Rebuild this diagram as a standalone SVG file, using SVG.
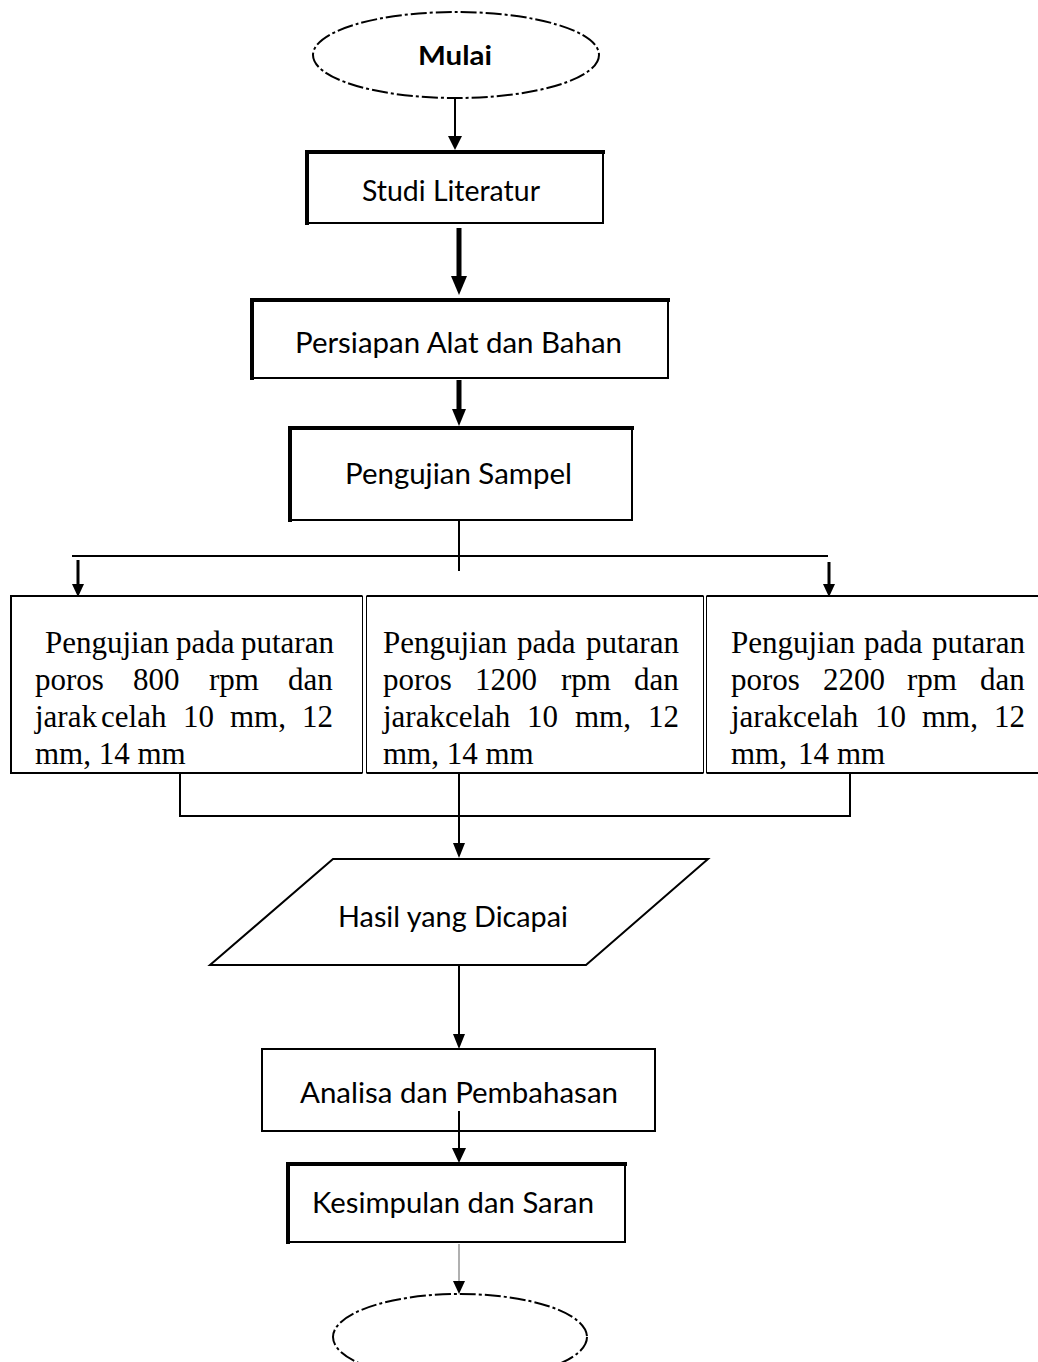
<svg xmlns="http://www.w3.org/2000/svg" width="1038" height="1362" viewBox="0 0 1038 1362">
<style>
.bg{fill:#ffffff}
.box{fill:#ffffff;stroke:#000;stroke-width:2}
.thick{fill:none;stroke:#000;stroke-width:4;stroke-linecap:square}
.thin{fill:none;stroke:#000;stroke-width:1}
.line{fill:none;stroke:#000;stroke-width:2}
.head{fill:#000}
.oval{fill:#fff;stroke:#000;stroke-width:2;stroke-dasharray:16 3 3 3}
.sans{font-family:Lato,"Open Sans","Liberation Sans",sans-serif;font-size:28px;fill:#000}
.bold{font-weight:bold;font-size:27px}
.serif{font-family:"Liberation Serif","Times New Roman",serif;font-size:31px;fill:#000}
</style>
<rect class="bg" x="0" y="0" width="1038" height="1362"/>

<g id="mulai">
  <ellipse class="oval" cx="456" cy="55" rx="143" ry="43"/>
  <text class="sans bold" x="418" y="65" textLength="74" lengthAdjust="spacingAndGlyphs">Mulai</text>
</g>

<g id="studi-literatur">
  <rect class="box" x="307" y="152" width="296" height="71"/>
  <path class="thick" d="M307 223 V152 H603"/>
  <text class="sans" x="362" y="201" textLength="178" lengthAdjust="spacingAndGlyphs">Studi Literatur</text>
</g>

<g id="persiapan">
  <rect class="box" x="252" y="300" width="416" height="78"/>
  <path class="thick" d="M252 378 V300 H668"/>
  <text class="sans" x="295" y="353" textLength="327" lengthAdjust="spacingAndGlyphs">Persiapan Alat dan Bahan</text>
</g>

<g id="pengujian-sampel">
  <rect class="box" x="290" y="428" width="342" height="92"/>
  <path class="thick" d="M290 520 V428 H632"/>
  <text class="sans" x="345" y="484" textLength="227" lengthAdjust="spacingAndGlyphs">Pengujian Sampel</text>
</g>

<g id="uji-800">
  <rect x="11" y="596" width="352" height="177" fill="#fff"/>
  <path class="line" d="M362.5 596 H11 V773 H362.5"/>
  <line class="thin" x1="362.5" y1="596" x2="362.5" y2="773"/>
  <text class="serif">
    <tspan x="45" y="653">Pengujian</tspan><tspan x="176" y="653">pada</tspan><tspan x="241" y="653">putaran</tspan>
    <tspan x="35" y="690">poros</tspan><tspan x="133" y="690">800</tspan><tspan x="209" y="690">rpm</tspan><tspan x="288" y="690">dan</tspan>
    <tspan x="35" y="727">jarak</tspan><tspan x="101" y="727">celah</tspan><tspan x="183" y="727">10</tspan><tspan x="230" y="727">mm,</tspan><tspan x="302" y="727">12</tspan>
    <tspan x="35" y="764">mm, 14 mm</tspan>
  </text>
</g>

<g id="uji-1200">
  <rect x="366.5" y="596" width="337" height="177" fill="#fff"/>
  <path class="line" d="M366.5 596 H703.5 M366.5 773 H703.5"/>
  <line class="thin" x1="366.5" y1="596" x2="366.5" y2="773"/>
  <line class="thin" x1="703.5" y1="596" x2="703.5" y2="773"/>
  <text class="serif">
    <tspan x="383" y="653">Pengujian</tspan><tspan x="517" y="653">pada</tspan><tspan x="586" y="653">putaran</tspan>
    <tspan x="383" y="690">poros</tspan><tspan x="475" y="690">1200</tspan><tspan x="561" y="690">rpm</tspan><tspan x="634" y="690">dan</tspan>
    <tspan x="383" y="727">jarakcelah</tspan><tspan x="527" y="727">10</tspan><tspan x="575" y="727">mm,</tspan><tspan x="648" y="727">12</tspan>
    <tspan x="383" y="764">mm, 14 mm</tspan>
  </text>
</g>

<g id="uji-2200">
  <rect x="706.5" y="596" width="332" height="177" fill="#fff"/>
  <path class="line" d="M706.5 596 H1038 M706.5 773 H1038"/>
  <line class="thin" x1="706.5" y1="596" x2="706.5" y2="773"/>
  <text class="serif">
    <tspan x="731" y="653">Pengujian</tspan><tspan x="864" y="653">pada</tspan><tspan x="932" y="653">putaran</tspan>
    <tspan x="731" y="690">poros</tspan><tspan x="823" y="690">2200</tspan><tspan x="907" y="690">rpm</tspan><tspan x="980" y="690">dan</tspan>
    <tspan x="731" y="727">jarakcelah</tspan><tspan x="875" y="727">10</tspan><tspan x="922" y="727">mm,</tspan><tspan x="994" y="727">12</tspan>
    <tspan x="731" y="764">mm,</tspan><tspan x="798" y="764">14</tspan><tspan x="837" y="764">mm</tspan>
  </text>
</g>

<g id="hasil">
  <polygon class="box" points="333,859 708,859 586,965 210,965"/>
  <text class="sans" x="338" y="927" textLength="230" lengthAdjust="spacingAndGlyphs">Hasil yang Dicapai</text>
</g>

<g id="analisa">
  <rect class="box" x="262" y="1049" width="393" height="82"/>
  <text class="sans" x="300" y="1103" textLength="318" lengthAdjust="spacingAndGlyphs">Analisa dan Pembahasan</text>
</g>

<g id="kesimpulan">
  <rect class="box" x="288" y="1164" width="337" height="78"/>
  <path class="thick" d="M288 1242 V1164 H625"/>
  <text class="sans" x="312" y="1213" textLength="282" lengthAdjust="spacingAndGlyphs">Kesimpulan dan Saran</text>
</g>

<g id="selesai">
  <ellipse class="oval" cx="460" cy="1337" rx="127" ry="43"/>
</g>

<g id="connectors">
  <line class="line" x1="455" y1="98" x2="455" y2="138"/>
  <polygon class="head" points="448,136 462,136 455,150"/>
  <line class="line" x1="459" y1="228" x2="459" y2="278" style="stroke-width:5"/>
  <polygon class="head" points="451,276 467,276 459,295"/>
  <line class="line" x1="459" y1="380" x2="459" y2="412" style="stroke-width:5"/>
  <polygon class="head" points="452,409 466,409 459,426"/>
  <line class="line" x1="459" y1="521" x2="459" y2="571"/>
  <line class="line" x1="72" y1="556" x2="828" y2="556"/>
  <line class="line" x1="78" y1="560" x2="78" y2="586" style="stroke-width:3"/>
  <polygon class="head" points="72,584 84,584 78,597"/>
  <line class="line" x1="829" y1="562" x2="829" y2="586" style="stroke-width:3"/>
  <polygon class="head" points="823,584 835,584 829,597"/>
  <path class="line" d="M180 774 V816 H850 V774"/>
  <line class="line" x1="459" y1="774" x2="459" y2="845"/>
  <polygon class="head" points="453,843 465,843 459,858"/>
  <line class="line" x1="459" y1="966" x2="459" y2="1036"/>
  <polygon class="head" points="453,1034 465,1034 459,1049"/>
  <line class="line" x1="459" y1="1111" x2="459" y2="1150"/>
  <polygon class="head" points="452,1148 466,1148 459,1163"/>
  <line class="line" x1="459" y1="1244" x2="459" y2="1283" style="stroke:#b0b0b0"/>
  <polygon class="head" points="453,1281 465,1281 459,1294"/>
</g>
</svg>
